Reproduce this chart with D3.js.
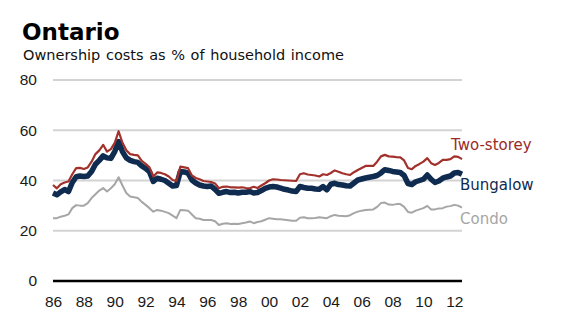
<!DOCTYPE html>
<html>
<head>
<meta charset="utf-8">
<script src="https://cdn.jsdelivr.net/npm/d3@7"></script>
<style>
  html, body { margin: 0; padding: 0; background: #fff; }
  svg { display: block; }
</style>
</head>
<body>
<svg id="chart" width="563" height="331"></svg>
<script>
// ---- Data (quarterly, 1986Q1 .. 2012Q3) ----
const startYear = 1986;
const twoStorey = [
  38.2,36.9,38.5,39.2, 39.6,42.5,44.9,45.0, 44.6,45.2,47.5,50.5, 52.0,54.2,51.5,52.5,
  55.0,59.6,55.0,52.0, 50.5,50.2,50.0,47.8, 46.6,45.2,41.6,43.2, 43.0,42.5,41.6,40.2,
  39.8,45.5,45.2,44.9, 42.0,41.0,40.5,39.8, 39.6,39.4,38.8,36.9, 37.5,37.6,37.3,37.3,
  37.2,37.3,37.0,36.9, 37.5,37.0,38.0,38.9, 40.0,40.5,40.4,40.2, 40.1,40.0,39.9,39.8,
  42.5,42.9,42.4,42.2, 42.0,41.6,42.5,42.2, 43.0,44.0,43.5,42.9, 42.5,42.2,43.3,44.2,
  45.0,45.8,45.8,45.8, 47.5,49.6,50.2,49.6, 49.5,49.3,49.2,48.0, 45.0,44.5,45.8,46.6,
  47.5,48.9,46.9,46.2, 47.0,48.2,48.2,48.5, 49.6,49.4,48.5
];
const bungalow = [
  35.0,34.3,35.5,36.4, 35.6,39.2,41.5,41.8, 41.6,41.8,43.6,46.5, 48.0,49.8,49.0,48.8,
  51.5,55.5,51.5,49.0, 48.0,47.5,47.2,45.8, 44.8,43.5,39.6,40.9, 40.5,40.0,38.9,37.8,
  38.0,43.6,43.4,42.9, 40.2,39.0,38.2,37.8, 37.6,37.8,36.5,34.9, 35.3,35.6,35.2,35.3,
  35.0,35.3,35.3,35.6, 35.0,35.2,36.0,36.9, 37.4,37.6,37.4,37.0, 36.5,36.2,35.8,35.6,
  37.6,37.2,36.9,36.9, 36.6,36.5,37.6,36.3, 38.5,38.9,38.4,38.2, 37.9,37.8,39.0,40.2,
  40.6,41.0,41.3,41.6, 42.0,43.0,44.3,44.0, 43.6,43.4,43.2,42.0, 38.8,38.4,39.5,40.0,
  40.5,42.2,40.5,39.2, 39.8,40.9,41.4,41.8, 43.0,43.2,42.5
];
const condo = [
  25.0,25.0,25.6,26.0, 26.5,29.0,30.2,30.0, 30.0,31.0,33.0,34.5, 36.0,37.0,35.6,36.9,
  38.5,41.3,38.0,35.0, 33.6,33.3,33.0,31.5, 30.3,29.0,27.6,28.3, 28.0,27.5,27.0,26.0,
  25.0,28.3,28.2,28.0, 26.5,25.0,24.8,24.3, 24.3,24.3,23.8,22.3, 22.8,23.0,22.7,22.8,
  22.7,23.0,23.3,23.7, 23.0,23.5,23.8,24.4, 25.0,24.8,24.6,24.6, 24.4,24.2,24.0,24.0,
  25.2,25.4,25.0,25.0, 25.1,25.4,25.2,25.0, 25.8,26.3,26.0,25.9, 25.8,26.2,27.0,27.6,
  28.0,28.3,28.4,28.5, 29.5,31.0,31.2,30.4, 30.3,30.6,30.6,29.5, 27.5,27.2,28.0,28.5,
  29.0,29.9,28.5,28.5, 28.9,29.0,29.6,29.8, 30.3,30.0,29.2
];
const yTicks = [0, 20, 40, 60, 80];
const xTicks = [1986,1988,1990,1992,1994,1996,1998,2000,2002,2004,2006,2008,2010,2012];
const xTickLabels = ["86","88","90","92","94","96","98","00","02","04","06","08","10","12"];
const seriesNames = ["Two-storey", "Bungalow", "Condo"];

// ---- Layout ----
const svg = d3.select("#chart");
const fontUI = "'DejaVu Sans', Verdana, sans-serif";
const fontAxis = "'Liberation Sans', Arial, sans-serif";

const x = d3.scaleLinear().domain([1986, 2012.5]).range([53, 462]);
const y = d3.scaleLinear().domain([0, 80]).range([281, 80]);
const t = i => startYear + i / 4;

// title
svg.append("text").attr("x", 22).attr("y", 40)
  .attr("font-family", fontUI).attr("font-weight", "bold").attr("font-size", 23)
  .attr("fill", "#000").text("Ontario");
svg.append("text").attr("x", 23).attr("y", 60)
  .attr("font-family", fontUI).attr("font-size", 14.5).attr("word-spacing", 1)
  .attr("fill", "#111").text("Ownership costs as % of household income");

// gridlines
svg.append("g").selectAll("line").data(yTicks.filter(d => d > 0)).join("line")
  .attr("x1", x.range()[0]).attr("x2", x.range()[1])
  .attr("y1", d => y(d)).attr("y2", d => y(d))
  .attr("stroke", "#d3d3d3").attr("stroke-width", 2);

// y labels
const yAxis = d3.axisLeft(y).tickValues(yTicks).tickSize(0).tickPadding(0);
const gy = svg.append("g").attr("transform", "translate(37,0)").call(yAxis);
gy.select(".domain").remove();
gy.selectAll("text").attr("font-family", fontAxis).attr("font-size", 15.5).attr("fill", "#1a1a1a");

// x labels
const xAxis = d3.axisBottom(x).tickValues(xTicks).tickFormat((d, i) => xTickLabels[i]).tickSize(0).tickPadding(0);
const gx = svg.append("g").attr("transform", "translate(0,296)").call(xAxis);
gx.select(".domain").remove();
gx.selectAll("text").attr("font-family", fontAxis).attr("font-size", 15.5).attr("fill", "#1a1a1a");

// zero axis
svg.append("line").attr("x1", x.range()[0]).attr("x2", x.range()[1])
  .attr("y1", y(0)).attr("y2", y(0)).attr("stroke", "#000").attr("stroke-width", 2.5);

// lines
const line = d3.line().x((d, i) => x(t(i))).y(d => y(d)).curve(d3.curveLinear);
svg.append("path").datum(condo).attr("d", line).attr("fill", "none")
  .attr("stroke", "#a6a6a6").attr("stroke-width", 2).attr("stroke-linejoin", "round");
svg.append("path").datum(bungalow).attr("d", line).attr("fill", "none")
  .attr("stroke", "#0f2b50").attr("stroke-width", 5.5).attr("stroke-linejoin", "round");
svg.append("path").datum(twoStorey).attr("d", line).attr("fill", "none")
  .attr("stroke", "#a3312b").attr("stroke-width", 2.2).attr("stroke-linejoin", "round");

// series labels
const labels = [
  { name: seriesNames[0], xx: 451, yy: 150, color: "#9b2a26" },
  { name: seriesNames[1], xx: 460, yy: 190, color: "#0f2b50" },
  { name: seriesNames[2], xx: 460, yy: 224, color: "#a6a6a6" }
];
svg.append("g").selectAll("text").data(labels).join("text")
  .attr("x", d => d.xx).attr("y", d => d.yy)
  .attr("font-family", fontUI).attr("font-size", 15)
  .attr("fill", d => d.color).text(d => d.name);
</script>
</body>
</html>
